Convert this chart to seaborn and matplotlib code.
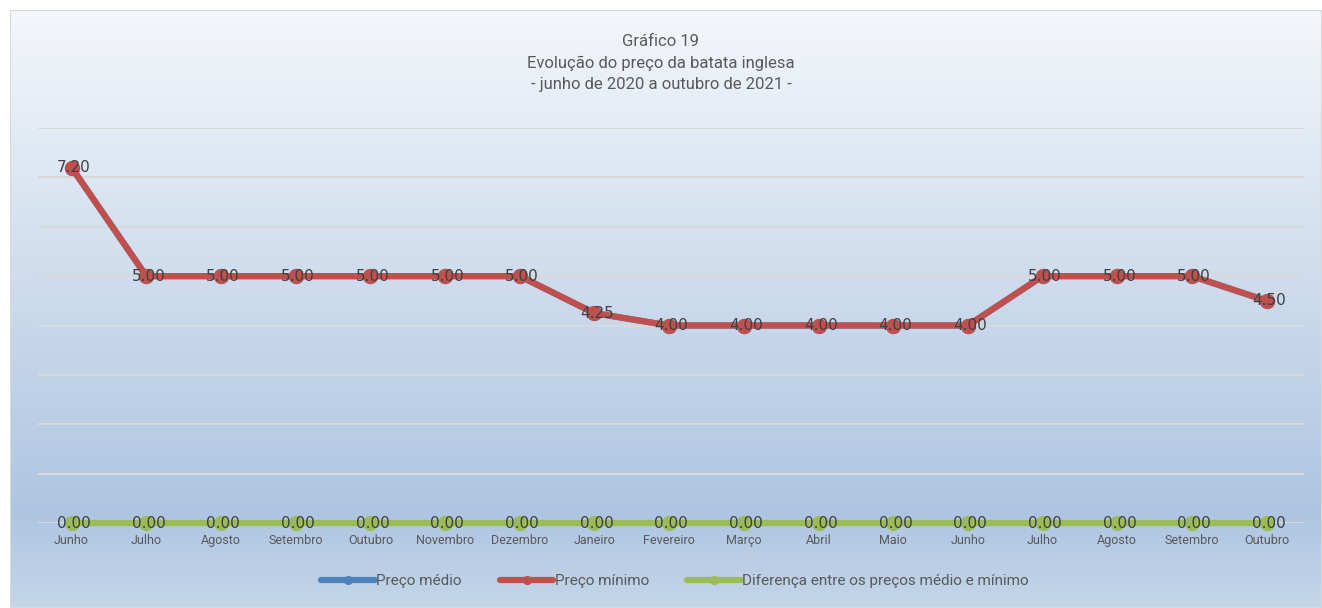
import numpy as np
import pandas as pd
import matplotlib as mpl
mpl.use('Agg')
import matplotlib.pyplot as plt
import seaborn as sns

months = ['Junho', 'Julho', 'Agosto', 'Setembro', 'Outubro', 'Novembro', 'Dezembro',
          'Janeiro', 'Fevereiro', 'Março', 'Abril', 'Maio', 'Junho', 'Julho',
          'Agosto', 'Setembro', 'Outubro']
preco_medio = [7.20, 5.00, 5.00, 5.00, 5.00, 5.00, 5.00, 4.25, 4.00, 4.00,
               4.00, 4.00, 4.00, 5.00, 5.00, 5.00, 4.50]
preco_minimo = [7.20, 5.00, 5.00, 5.00, 5.00, 5.00, 5.00, 4.25, 4.00, 4.00,
                4.00, 4.00, 4.00, 5.00, 5.00, 5.00, 4.50]
diferenca = [0.00] * 17
series_names = ['Preço médio', 'Preço mínimo', 'Diferença entre os preços médio e mínimo']
colors = ['#4f81bd', '#c0504d', '#9bbb59']

sns.set_style('white')
plt.rcParams['font.family'] = ['Liberation Sans Narrow', 'Roboto', 'DejaVu Sans']
text_color = '#595959'

fig = plt.figure(figsize=(13.22, 6.08), dpi=100)

# chart area background gradient
bg = fig.add_axes([10 / 1322, 0, 1 - 10 / 1322, 1 - 10 / 608], zorder=-5)
top = np.array([244, 247, 251]) / 255
mid = np.array([174, 197, 225]) / 255
bot = np.array([196, 213, 233]) / 255
t = np.linspace(0, 1, 300)[:, None]
grad = np.where(t < 0.84, top + (mid - top) * (t / 0.84), mid + (bot - mid) * ((t - 0.84) / 0.16))
bg.imshow(grad[:, None, :].repeat(2, axis=1), aspect='auto', extent=[0, 1, 0, 1])
bg.set_axis_off()
bg.add_patch(plt.Rectangle((0, 0), 1, 1, transform=bg.transAxes, fill=False,
                           edgecolor='#d9d9d9', lw=1.5))

ax = fig.add_axes([38 / 1322, 1 - 523 / 608, (1304 - 38) / 1322, (523 - 128) / 608])
ax.set_facecolor('none')

df = pd.DataFrame({'x': range(len(months)), series_names[0]: preco_medio,
                   series_names[1]: preco_minimo, series_names[2]: diferenca})
for name, c in zip(series_names, colors):
    sns.lineplot(data=df, x='x', y=name, ax=ax, color=c, lw=4.5, marker='o',
                 markersize=11, markeredgewidth=0, label=name, legend=False, clip_on=False)
    for xi, v in zip(df['x'], df[name]):
        if name == series_names[0]:
            continue
        ax.text(xi + 0.03, v, f'{v:.2f}', ha='center', va='center', fontsize=11,
                color='#404040', family=['DejaVu Sans'], zorder=5)

ax.set_xlim(-0.45, 16.5)
ax.set_ylim(0, 8)
ax.set_yticks(range(0, 9))
ax.yaxis.grid(True, color='#d9d9d9', lw=1.5)
ax.set_axisbelow(True)
ax.tick_params(axis='y', left=False, labelleft=False)
ax.set_xticks(range(len(months)))
ax.set_xticklabels(months, fontsize=9, color=text_color)
ax.tick_params(axis='x', length=0, pad=8)
ax.set_xlabel('')
ax.set_ylabel('')
for s in ax.spines.values():
    s.set_visible(False)

fig.text(0.5, 1 - 42 / 608, 'Gráfico 19', ha='center', va='center', fontsize=12, color=text_color)
fig.text(0.5, 1 - 63 / 608, 'Evolução do preço da batata inglesa', ha='center', va='center',
         fontsize=12, color=text_color)
fig.text(0.5, 1 - 84 / 608, '- junho de 2020 a outubro de 2021 -', ha='center', va='center',
         fontsize=12, color=text_color)

handles, labels = ax.get_legend_handles_labels()
fig.legend(handles, labels, loc='center', bbox_to_anchor=(675 / 1322, 1 - 581 / 608), ncol=3,
           frameon=False, fontsize=11, labelcolor=text_color, handlelength=3.5,
           handletextpad=0.1, columnspacing=2.5, markerscale=0.6)

fig.savefig('out.png', dpi=100, facecolor='white')
